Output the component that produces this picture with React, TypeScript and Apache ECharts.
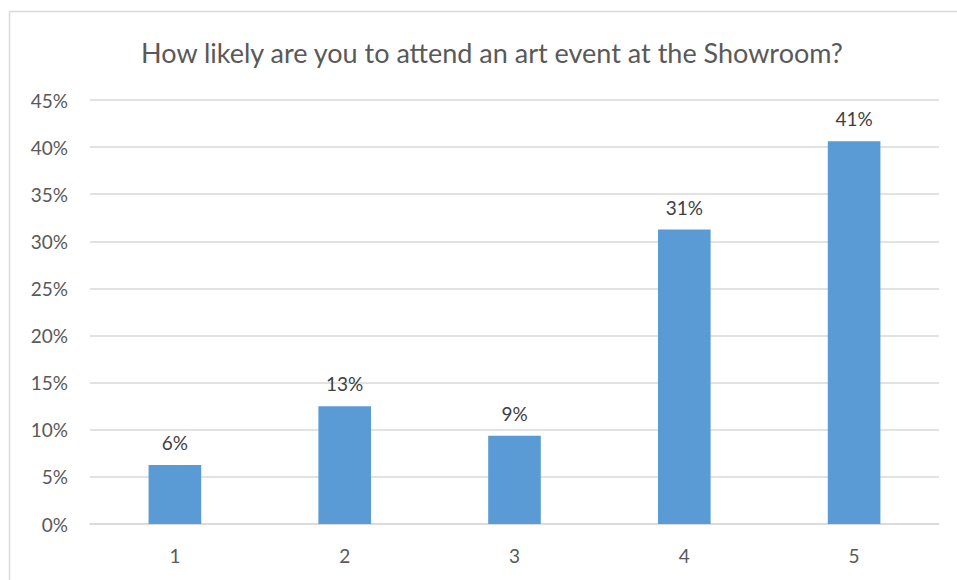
import React, { useEffect, useRef } from "react";
import * as echarts from "echarts";

const TITLE = "How likely are you to attend an art event at the Showroom?";
const categories = ["1", "2", "3", "4", "5"];
const percentValues = [6.25, 12.5, 9.375, 31.25, 40.625];
const dataLabels = ["6%", "13%", "9%", "31%", "41%"];

export default function App() {
  const ref = useRef<HTMLDivElement>(null);
  useEffect(() => {
    if (!ref.current) return;
    const chart = echarts.init(ref.current, null, { renderer: "svg" });
    const font = "Lato, 'Open Sans', sans-serif";
    chart.setOption({
      animation: false,
      backgroundColor: "#ffffff",
      title: {
        text: TITLE,
        left: 487,
        textAlign: "center",
        top: 34,
        textStyle: { fontFamily: font, fontSize: 27, fontWeight: "normal", color: "#595959" },
      },
      graphic: [
        {
          type: "line",
          shape: { x1: 9.5, y1: 11.5, x2: 957, y2: 11.5 },
          style: { stroke: "#d9d9d9", lineWidth: 1.5 },
          silent: true,
          z: -1,
        },
        {
          type: "line",
          shape: { x1: 9.5, y1: 11.5, x2: 9.5, y2: 580 },
          style: { stroke: "#d9d9d9", lineWidth: 1.5 },
          silent: true,
          z: -1,
        },
      ],
      grid: { left: 90, right: 18, top: 100, bottom: 56, containLabel: false },
      xAxis: {
        type: "category",
        data: categories,
        axisLine: { lineStyle: { color: "#d9d9d9", width: 1.5 } },
        axisTick: { show: false },
        axisLabel: { fontFamily: font, fontSize: 19, color: "#595959", margin: 22 },
      },
      yAxis: {
        type: "value",
        min: 0,
        max: 45,
        interval: 5,
        axisLine: { show: false },
        axisTick: { show: false },
        axisLabel: {
          fontFamily: font,
          fontSize: 19,
          color: "#595959",
          margin: 22,
          formatter: (v: number) => `${v}%`,
        },
        splitLine: { lineStyle: { color: "#d9d9d9", width: 1.5 } },
      },
      series: [
        {
          type: "bar",
          data: percentValues,
          barWidth: "31%",
          itemStyle: { color: "#5B9BD5" },
          label: {
            show: true,
            position: "top",
            distance: 13,
            fontFamily: font,
            fontSize: 19,
            color: "#404040",
            formatter: (p: any) => dataLabels[p.dataIndex],
          },
        },
      ],
    });
    return () => chart.dispose();
  }, []);
  return (
    <div
      ref={ref}
      style={{ position: "fixed", left: 0, top: 0, width: 957, height: 580 }}
    />
  );
}
